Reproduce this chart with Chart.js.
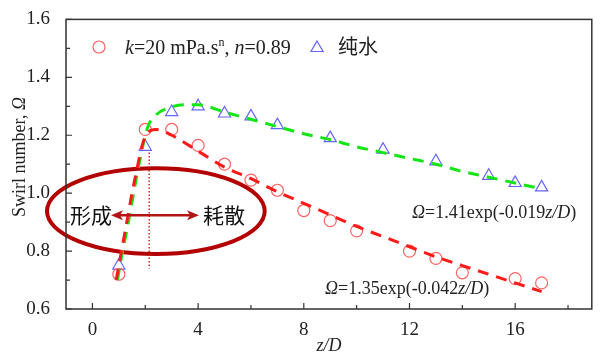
<!DOCTYPE html>
<html><head><meta charset="utf-8">
<script src="https://cdn.jsdelivr.net/npm/chart.js@4"></script>
<style>html,body{margin:0;padding:0;background:#fff}#wrap{width:600px;height:358px}</style>
</head><body><div id="wrap"><canvas id="c" width="600" height="358"></canvas></div>
<script>
// ---- data ----
const zCircles = [1, 2, 3, 4, 5, 6, 7, 8, 9, 10, 12, 13, 14, 16, 17];
const omegaCircles = [0.72, 1.22, 1.22, 1.165, 1.10, 1.045, 1.01, 0.94, 0.905, 0.87, 0.80, 0.775, 0.725, 0.705, 0.69];
const zTriangles = [1, 2, 3, 4, 5, 6, 7, 9, 11, 13, 15, 16, 17];
const omegaTriangles = [0.75, 1.16, 1.28, 1.30, 1.275, 1.265, 1.235, 1.19, 1.15, 1.11, 1.06, 1.035, 1.02];
const zRedFit = [0.9, 1.1, 1.3, 1.5, 1.7, 1.9, 2.1, 2.4, 3, 4, 5, 6, 7, 8, 9, 10, 11, 12, 13, 14, 15, 16, 17];
const omegaRedFit = [0.70, 0.80, 0.90, 1.00, 1.09, 1.17, 1.21, 1.22, 1.20, 1.145, 1.09, 1.05, 1.005, 0.965, 0.925, 0.885, 0.85, 0.815, 0.78, 0.75, 0.72, 0.69, 0.66];
const zGreenFit = [0.95, 1.1, 1.3, 1.5, 1.7, 1.9, 2.1, 2.4, 2.9, 3.5, 4, 5, 6, 7, 8, 9, 10, 11, 12, 13, 14, 15, 16, 17];
const omegaGreenFit = [0.70, 0.78, 0.87, 0.97, 1.07, 1.16, 1.23, 1.27, 1.295, 1.305, 1.305, 1.28, 1.255, 1.23, 1.205, 1.185, 1.16, 1.14, 1.12, 1.10, 1.075, 1.055, 1.035, 1.015];
const xTickValues = [0, 4, 8, 12, 16];
const xMinorTicks = [2, 6, 10, 14, 18];
const yTickValues = [0.6, 0.8, 1.0, 1.2, 1.4, 1.6];
const yMinorTicks = [0.7, 0.9, 1.1, 1.3, 1.5];
const legendLabels = ['k=20 mPa.s^n, n=0.89', '纯水'];
const equations = ['Ω=1.41exp(-0.019z/D)', 'Ω=1.35exp(-0.042z/D)'];
const zoneLabels = ['形成', '耗散'];

const SERIF = "'Liberation Serif', 'Times New Roman', serif";
const CJK = "'Noto Sans CJK SC', sans-serif";
const pts = (xs, ys) => xs.map((x, i) => ({x: x, y: ys[i]}));

function richText(ctx, x, y, pieces, size) {
  let cx = x;
  for (const p of pieces) {
    const sz = p.sup ? Math.round(size * 0.6) : size;
    ctx.font = (p.it ? 'italic ' : '') + sz + 'px ' + SERIF;
    ctx.fillText(p.t, cx, p.sup ? y - size * 0.42 : y);
    cx += ctx.measureText(p.t).width;
  }
  return cx;
}

const decor = {
  id: 'decor',
  beforeDatasetsDraw(chart) {
    const ctx = chart.ctx, xs = chart.scales.x, ys = chart.scales.y;
    ctx.save();
    ctx.strokeStyle = '#d42a2a'; ctx.lineWidth = 1.5; ctx.setLineDash([1.5, 2]);
    ctx.beginPath(); ctx.moveTo(xs.getPixelForValue(2.15), ys.getPixelForValue(1.14));
    ctx.lineTo(xs.getPixelForValue(2.15), ys.getPixelForValue(0.74)); ctx.stroke();
    ctx.setLineDash([]);
    const cx = xs.getPixelForValue(2.4), cy = ys.getPixelForValue(0.938);
    const rx = xs.getPixelForValue(2.4 + 4.12) - cx, ry = cy - ys.getPixelForValue(0.938 + 0.148);
    ctx.strokeStyle = '#b30000'; ctx.lineWidth = 4;
    ctx.beginPath(); ctx.ellipse(cx, cy, rx, ry, 0, 0, Math.PI * 2); ctx.stroke();
    ctx.restore();
  },
  afterDraw(chart) {
    const ctx = chart.ctx, xs = chart.scales.x, ys = chart.scales.y, a = chart.chartArea;
    ctx.save();
    ctx.strokeStyle = '#333'; ctx.lineWidth = 1.5;
    ctx.strokeRect(a.left, a.top, a.right - a.left, a.bottom - a.top);
    ctx.lineWidth = 1.2;
    ctx.beginPath();
    xTickValues.forEach(v => { const p = xs.getPixelForValue(v); ctx.moveTo(p, a.bottom); ctx.lineTo(p, a.bottom - 6); });
    xMinorTicks.forEach(v => { const p = xs.getPixelForValue(v); ctx.moveTo(p, a.bottom); ctx.lineTo(p, a.bottom - 4); });
    yTickValues.forEach(v => { const p = ys.getPixelForValue(v); ctx.moveTo(a.left, p); ctx.lineTo(a.left + 6, p); });
    yMinorTicks.forEach(v => { const p = ys.getPixelForValue(v); ctx.moveTo(a.left, p); ctx.lineTo(a.left + 4, p); });
    ctx.stroke();

    ctx.fillStyle = '#222'; ctx.textBaseline = 'middle';
    ctx.save();
    ctx.translate(20, 157); ctx.rotate(-Math.PI / 2);
    ctx.font = '18px ' + SERIF;
    const t1 = 'Swirl number, ', t2 = 'Ω';
    const w1 = ctx.measureText(t1).width;
    ctx.font = 'italic 18px ' + SERIF;
    const w2 = ctx.measureText(t2).width;
    ctx.textAlign = 'left';
    ctx.font = '18px ' + SERIF; ctx.fillText(t1, -(w1 + w2) / 2, 0);
    ctx.font = 'italic 18px ' + SERIF; ctx.fillText(t2, -(w1 + w2) / 2 + w1, 0);
    ctx.restore();
    ctx.font = 'italic 18px ' + SERIF; ctx.textAlign = 'center';
    ctx.fillText('z/D', 329, 346);

    ctx.textAlign = 'left'; ctx.textBaseline = 'alphabetic';
    ctx.lineWidth = 1.2;
    ctx.strokeStyle = '#ff6464';
    ctx.beginPath(); ctx.arc(99, 47, 6, 0, Math.PI * 2); ctx.stroke();
    ctx.fillStyle = '#222';
    const lab = legendLabels[0];
    richText(ctx, 125, 54, [
      {t: lab.slice(0, 1), it: true}, {t: lab.slice(1, 10)}, {t: 'n', sup: true},
      {t: ', '}, {t: 'n', it: true}, {t: lab.slice(15)}
    ], 20);
    ctx.strokeStyle = '#6464ff';
    ctx.beginPath();
    const r = 7, tx = 317, ty = 48;
    ctx.moveTo(tx, ty - r); ctx.lineTo(tx + r * 0.866, ty + r / 2); ctx.lineTo(tx - r * 0.866, ty + r / 2); ctx.closePath(); ctx.stroke();
    ctx.font = '20px ' + CJK; ctx.textBaseline = 'middle';
    ctx.fillText(legendLabels[1], 338, 46);

    ctx.textBaseline = 'alphabetic';
    const eq = (s, x, y) => richText(ctx, x, y, [
      {t: 'Ω', it: true}, {t: s.slice(1, s.length - 4)}, {t: 'z/D', it: true}, {t: ')'}
    ], 18);
    eq(equations[0], 412, 218);
    eq(equations[1], 325, 294);

    const ay = ys.getPixelForValue(0.924);
    const ax1 = 111, ax2 = 199;
    ctx.strokeStyle = '#b51414'; ctx.fillStyle = '#b51414'; ctx.lineWidth = 2.5;
    ctx.beginPath(); ctx.moveTo(ax1 + 8, ay); ctx.lineTo(ax2 - 8, ay); ctx.stroke();
    ctx.beginPath(); ctx.moveTo(ax1, ay); ctx.lineTo(ax1 + 12, ay - 5); ctx.lineTo(ax1 + 9, ay); ctx.lineTo(ax1 + 12, ay + 5); ctx.closePath(); ctx.fill();
    ctx.beginPath(); ctx.moveTo(ax2, ay); ctx.lineTo(ax2 - 12, ay - 5); ctx.lineTo(ax2 - 9, ay); ctx.lineTo(ax2 - 12, ay + 5); ctx.closePath(); ctx.fill();
    ctx.fillStyle = '#111'; ctx.font = '21px ' + CJK; ctx.textBaseline = 'middle';
    ctx.fillText(zoneLabels[0], 70, ay);
    ctx.fillText(zoneLabels[1], 203, ay);
    ctx.restore();
  }
};

new Chart(document.getElementById('c'), {
  type: 'scatter',
  data: {
    datasets: [
      {label: 'fit k=20', data: pts(zRedFit, omegaRedFit), showLine: true, borderColor: '#ff1a1a', borderWidth: 3,
       borderDash: [11, 8], pointRadius: 0, cubicInterpolationMode: 'monotone', order: 0},
      {label: 'fit water', data: pts(zGreenFit, omegaGreenFit), showLine: true, borderColor: '#14e614', borderWidth: 3,
       borderDash: [11, 8], pointRadius: 0, cubicInterpolationMode: 'monotone', order: 0},
      {label: legendLabels[0], data: pts(zCircles, omegaCircles), pointStyle: 'circle', pointRadius: 6,
       borderColor: '#ff6464', backgroundColor: 'rgba(0,0,0,0)', borderWidth: 1.2, order: 1},
      {label: legendLabels[1], data: pts(zTriangles, omegaTriangles), pointStyle: 'triangle', pointRadius: 7,
       borderColor: '#6464ff', backgroundColor: 'rgba(0,0,0,0)', borderWidth: 1.2, order: 1}
    ]
  },
  options: {
    responsive: false, animation: false,
    layout: {padding: {top: 19, right: 6, left: 0, bottom: 0}},
    plugins: {legend: {display: false}, tooltip: {enabled: false}},
    scales: {
      x: {type: 'linear', min: -1, max: 18.9,
          afterBuildTicks: s => { s.ticks = xTickValues.map(v => ({value: v})); },
          afterFit: s => { s.height = 49; },
          grid: {display: false}, border: {display: false},
          ticks: {font: {family: SERIF, size: 19}, color: '#222', padding: 2, maxRotation: 0}},
      y: {type: 'linear', min: 0.6, max: 1.6,
          afterBuildTicks: s => { s.ticks = yTickValues.map(v => ({value: v})); },
          afterFit: s => { s.width = 66; },
          grid: {display: false}, border: {display: false},
          ticks: {font: {family: SERIF, size: 19}, color: '#222', padding: 8, callback: v => v.toFixed(1)}}
    }
  },
  plugins: [decor]
});
</script></body></html>
